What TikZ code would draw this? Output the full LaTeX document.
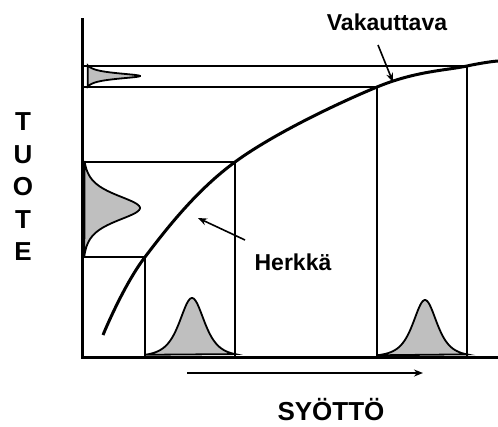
\documentclass[tikz,border=0pt]{standalone}
\usepackage{fontspec}
\setmainfont{Liberation Sans}
\usetikzlibrary{arrows.meta}
\tikzset{
  axisline/.style={line width=3pt},
  guide/.style={line width=1.4pt},
  bell/.style={fill=black!25,draw=black,line width=1.8pt},
  pointer/.style={line width=1.6pt,-{Stealth[length=9pt,width=7pt]}},
  lbl/.style={font=\bfseries\fontsize{23}{28}\selectfont,inner sep=0pt},
  axlbl/.style={font=\bfseries\fontsize{26}{32.5}\selectfont,inner sep=0pt,align=center}
}
\begin{document}
\begin{tikzpicture}[x=1pt,y=-1pt]
  \useasboundingbox (0,0) rectangle (498,426);
  % axes
  \coordinate (o) at (82,357);
  \coordinate (ytop) at (82,18);
  \coordinate (xend) at (498,357);
  % points on the curve
  \coordinate (c0) at (103,335);
  \coordinate (c1) at (145,257);
  \coordinate (c2) at (235,162);
  \coordinate (c3) at (377,87);
  \coordinate (c4) at (467,66);
  \coordinate (c5) at (498,61);
  % bells
  \filldraw[bell] plot[domain=-47:48,samples=90] ({82+58/(1+(\x/24)^2)^2},{208+\x}) -- cycle;
  \filldraw[bell] plot[domain=-10.5:10.5,samples=70] ({82+58/(1+(\x/3.5)^2)},{76+\x}) -- cycle;
  \filldraw[bell] plot[domain=-47:43,samples=90] ({192+\x},{357-59/(1+(\x/23)^2)^2}) -- cycle;
  \filldraw[bell] plot[domain=-48:42,samples=90] ({425+\x},{357-57/(1+(\x/22)^2)^2}) -- cycle;
  % guide lines
  \draw[guide] (o |- c1) -- (c1) -- (c1 |- o);
  \draw[guide] (o |- c2) -- (c2) -- (c2 |- o);
  \draw[line width=2pt] (o |- c3) -- (c3) -- (c3 |- o);
  \draw[line width=2pt] (o |- c4) -- (c4) -- (c4 |- o);
  % curve
  \draw[line width=3pt] plot[smooth,tension=0.6] coordinates {(c0) (c1) (c2) (c3) (c4) (c5)};
  \draw[axisline] (ytop) -- (o) -- (xend);
  % labels
  \node[lbl] (vak) at (387,22) {Vakauttava};
  \node[lbl] (herk) at (293,262) {Herkkä};
  \node[axlbl,anchor=base] (syotto) at (331,420) {SYÖTTÖ};
  \node[axlbl] (tuote) at (23,187) {T\\U\\O\\T\\E};
  \coordinate (va1) at (378,45);
  \coordinate (va2) at (393,82);
  \coordinate (he1) at (245,240);
  \coordinate (he2) at (198,218);
  \coordinate (sy1) at (187,373);
  \coordinate (sy2) at (423,373);
  \draw[pointer] (va1) -- (va2);
  \draw[pointer] (he1) -- (he2);
  \draw[pointer] (sy1) -- (sy2);
\end{tikzpicture}
\end{document}
